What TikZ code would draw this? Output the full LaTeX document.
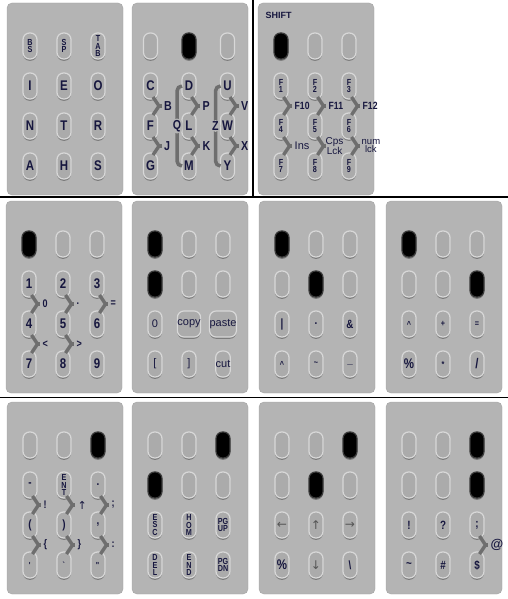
\documentclass[tikz,border=0pt]{standalone}
\usepackage{fontspec}
\setmainfont{Liberation Sans}
\newfontfamily\keyfont{Liberation Sans}[FakeStretch=0.82]
\newfontfamily\arrfont{DejaVu Sans}
\usetikzlibrary{calc}

\definecolor{ink}{HTML}{17173F}
\definecolor{panelbg}{HTML}{B4B4B4}
\definecolor{panelrim}{HTML}{A4A4A4}
\definecolor{keyface}{HTML}{ABABAB}
\definecolor{keyrim}{HTML}{D8D8D8}
\definecolor{keyshade}{HTML}{7C7C7C}
\definecolor{dnrim}{HTML}{3A3A3A}
\definecolor{chvgray}{HTML}{6E6E6E}
\definecolor{arrgray}{HTML}{555555}

% one panel of 3x4 keys: [column pitch]{name}{x}{y}{style/label, ...}
\newcommand{\keypanel}[5][34]{%
  \node[panel, anchor=north west] (#2) at (#3,#4) {};
  \foreach \st/\lab [count=\idx from 0] in {#5} {
    \pgfmathtruncatemacro{\kr}{\idx/3+1}
    \pgfmathtruncatemacro{\kc}{mod(\idx,3)+1}
    \pgfmathsetmacro{\kx}{#3+57+#1*(\kc-2)}
    \pgfmathsetmacro{\ky}{#4+43+40*(\kr-1)}
    \node[\st] (#2-\kr-\kc) at (\kx,\ky) {\lab};
  }%
}

% chord mark between two keys of a column: [label options]{upper}{lower}{label}
\newcommand{\chev}[4][]{%
  \coordinate (#2m) at ($(#2)!.5!(#3)$);
  \draw[chv] ([xshift=2.5,yshift=9]#2m) -- ([xshift=8.5]#2m) -- ([xshift=2.5,yshift=-9]#2m);
  \draw[chv] ([xshift=8]#2m) -- ([xshift=11]#2m) node[chvlab, anchor=west, #1] (#2l) {#4};
}

\begin{document}
\begin{tikzpicture}[x=1pt, y=-1pt,
    panel/.style={rectangle, draw=panelrim, fill=panelbg, rounded corners=5, minimum width=116, minimum height=192, inner sep=0, outer sep=0},
    keybase/.style={rectangle, rounded corners=6.5, minimum width=14, minimum height=26, inner sep=0, outer sep=0, line width=1.2, text=ink, preaction={fill=keyshade, transform canvas={yshift=-1.8}}},
    up/.style={keybase, fill=keyface, draw=keyrim, font=\keyfont\fontsize{14}{14}\bfseries},
    upm/.style={up, font=\keyfont\fontsize{12}{12}\bfseries},
    ups/.style={up, font=\keyfont\fontsize{8.8}{7.6}\bfseries, align=center},
    upw/.style={up, font=\fontsize{11}{11}\selectfont},
    upa/.style={up, font=\arrfont\fontsize{12}{12}\selectfont, text=arrgray},
    dn/.style={keybase, fill=black, draw=dnrim},
    chv/.style={draw=chvgray, line width=3.4, line join=miter},
    chvlab/.style={font=\keyfont\fontsize{13}{13}\bfseries, text=ink, inner sep=1},
    brk/.style={draw=chvgray, line width=3.5, rounded corners=5},
    brklab/.style={font=\keyfont\fontsize{13}{13}\bfseries, text=ink, fill=panelbg, inner sep=1.5},
    rule/.style={line width=1.6}
]
\useasboundingbox (0,0) rectangle (508,599);

% Row 1
\keypanel{alpha}{7}{3}{ups/B\\S,ups/S\\P,ups/T\\A\\B,up/I,up/E,up/O,up/N,up/T,up/R,up/A,up/H,up/S}
\keypanel[38.5]{more}{132}{3}{up/,dn/,up/,up/C,up/D,up/U,up/F,up/L,up/W,up/G,up/M,up/Y}
\keypanel{shift}{258}{3}{dn/,up/,up/,ups/F\\1,ups/F\\2,ups/F\\3,ups/F\\4,ups/F\\5,ups/F\\6,ups/F\\7,ups/F\\8,ups/F\\9}

\chev{more-2-1}{more-3-1}{B}
\chev{more-2-2}{more-3-2}{P}
\chev{more-2-3}{more-3-3}{V}
\chev{more-3-1}{more-4-1}{J}
\chev{more-3-2}{more-4-2}{K}
\chev{more-3-3}{more-4-3}{X}
\draw[brk] (more-2-2.west) -- ++(-5,0) |- node[pos=.25, brklab] (q) {Q} (more-4-2.west);
\draw[brk] (more-2-3.west) -- ++(-5,0) |- node[pos=.25, brklab] (z) {Z} (more-4-3.west);

\node[font=\fontsize{9}{9}\bfseries, text=ink, anchor=west] (shiftlab) at ($(shift.north west)+(4,12)$) {SHIFT};
\chev[font=\keyfont\fontsize{10.5}{10}\bfseries]{shift-2-1}{shift-3-1}{F10}
\chev[font=\keyfont\fontsize{10.5}{10}\bfseries]{shift-2-2}{shift-3-2}{F11}
\chev[font=\keyfont\fontsize{10.5}{10}\bfseries]{shift-2-3}{shift-3-3}{F12}
\chev[font=\fontsize{11}{11}\selectfont]{shift-3-1}{shift-4-1}{Ins}
\chev[font=\fontsize{10}{8.5}\selectfont, align=center, xshift=-3]{shift-3-2}{shift-4-2}{Cps\\Lck}
\chev[font=\fontsize{9.5}{8.5}\selectfont, align=center, xshift=-1]{shift-3-3}{shift-4-3}{num\\lck}

% Row 2
\keypanel{nums}{6}{201}{dn/,up/,up/,up/1,up/2,up/3,up/4,up/5,up/6,up/7,up/8,up/9}
\keypanel{edit}{132}{201}{dn/,up/,up/,dn/,up/,up/,upw/0,upw/copy,upw/paste,upw/[,upw/],upw/cut}
\keypanel{sym}{259}{201}{dn/,up/,up/,up/,dn/,up/,upm/|,upm/.,upm/\&,ups/\textasciicircum,ups/\textasciitilde,upm/\_}
\keypanel{math}{386}{201}{dn/,up/,up/,up/,up/,dn/,ups/\textasciicircum,ups/+,ups/=,up/\%,ups/*,up/\slash}

\chev[font=\keyfont\fontsize{11}{11}\bfseries]{nums-2-1}{nums-3-1}{0}
\chev[font=\keyfont\fontsize{11}{11}\bfseries]{nums-2-2}{nums-3-2}{.}
\chev[font=\keyfont\fontsize{11}{11}\bfseries]{nums-2-3}{nums-3-3}{=}
\chev[font=\keyfont\fontsize{11}{11}\bfseries]{nums-3-1}{nums-4-1}{<}
\chev[font=\keyfont\fontsize{11}{11}\bfseries]{nums-3-2}{nums-4-2}{>}

% Row 3
\keypanel{punct}{7}{402}{up/,up/,dn/,upm/-,ups/E\\N\\T,upm/.,upm/(,upm/),upm/{,},ups/\textquotesingle,ups/\textasciigrave,ups/\textquotedbl}
\keypanel{nav}{132}{402}{up/,up/,dn/,dn/,up/,up/,ups/E\\S\\C,ups/H\\O\\M,ups/PG\\UP,ups/D\\E\\L,ups/E\\N\\D,ups/PG\\DN}
\keypanel{arrows}{259}{402}{up/,up/,dn/,up/,dn/,up/,upa/←,upa/↑,upa/→,up/\%,upa/↓,upm/\textbackslash}
\keypanel{misc}{386}{402}{up/,up/,dn/,up/,up/,dn/,upm/!,upm/?,upm/;,upm/\textasciitilde,upm/\#,upm/\$}

\chev[font=\keyfont\fontsize{11}{11}\bfseries]{punct-2-1}{punct-3-1}{!}
\chev[font=\arrfont\fontsize{11}{11}\selectfont]{punct-2-2}{punct-3-2}{↑}
\chev[font=\keyfont\fontsize{11}{11}\bfseries]{punct-2-3}{punct-3-3}{;}
\chev[font=\keyfont\fontsize{11}{11}\bfseries]{punct-3-1}{punct-4-1}{\{}
\chev[font=\keyfont\fontsize{11}{11}\bfseries]{punct-3-2}{punct-4-2}{\}}
\chev[font=\keyfont\fontsize{11}{11}\bfseries]{punct-3-3}{punct-4-3}{:}
\chev[font=\fontsize{13}{13}\bfseries]{misc-3-3}{misc-4-3}{@}

% separators
\draw[rule] (0,197) -- (508,197);
\draw[rule] (0,397.5) -- (508,397.5);
\draw[rule] (253,0) -- (253,197);
\end{tikzpicture}
\end{document}
